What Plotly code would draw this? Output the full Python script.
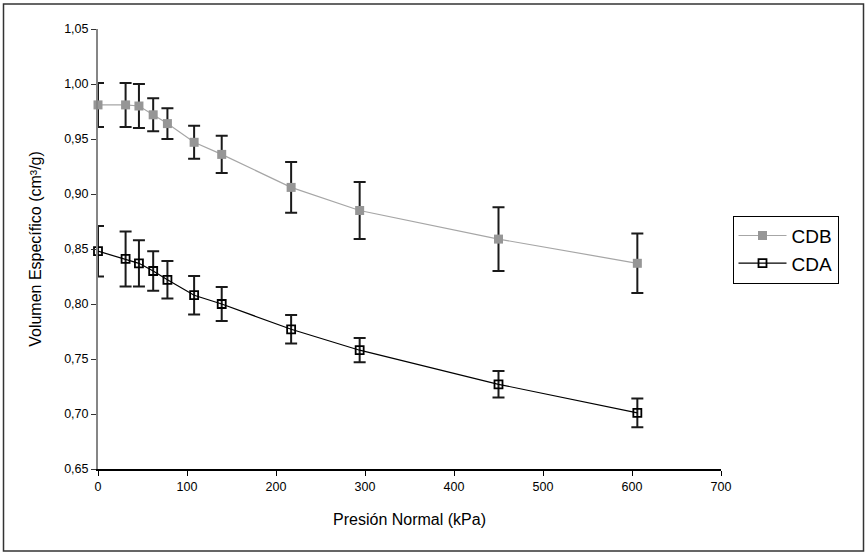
import plotly.graph_objects as go

# Data
presion = [0, 31, 46, 62, 78, 108, 139, 217, 294, 450, 606]
cdb = [0.981, 0.981, 0.980, 0.972, 0.964, 0.947, 0.936, 0.906, 0.885, 0.859, 0.837]
cdb_err = [0.020, 0.020, 0.020, 0.015, 0.014, 0.015, 0.017, 0.023, 0.026, 0.029, 0.027]
cda = [0.848, 0.841, 0.837, 0.830, 0.822, 0.808, 0.800, 0.777, 0.758, 0.727, 0.701]
cda_err = [0.023, 0.025, 0.021, 0.018, 0.017, 0.0175, 0.0155, 0.013, 0.011, 0.012, 0.013]

x_ticks = [0, 100, 200, 300, 400, 500, 600, 700]
y_ticks = [0.65, 0.70, 0.75, 0.80, 0.85, 0.90, 0.95, 1.00, 1.05]

FONT = "Liberation Sans, Arial, sans-serif"

fig = go.Figure()
fig.add_trace(go.Scatter(
    x=presion, y=cdb, name="CDB", mode="lines+markers",
    line=dict(color="#a6a6a6", width=1.2),
    marker=dict(symbol="square", size=9, color="#969696"),
    error_y=dict(type="data", array=cdb_err, visible=True,
                 color="#1a1a1a", thickness=2, width=6),
    cliponaxis=False,
))
fig.add_trace(go.Scatter(
    x=presion, y=cda, name="CDA", mode="lines+markers",
    line=dict(color="#000000", width=1.2),
    marker=dict(symbol="square-open", size=8, color="#000000",
                line=dict(width=1.8, color="#000000")),
    error_y=dict(type="data", array=cda_err, visible=True,
                 color="#1a1a1a", thickness=2, width=6),
    cliponaxis=False,
))

L, R, T, B = 98, 145, 28.5, 84.7
W, H = 866, 554
pw = W - L - R
ph = H - T - B

def px2paper_x(px):
    return (px - L) / pw

def py2paper_y(py):
    return (H - B - py) / ph

fig.add_shape(type="rect", xref="paper", yref="paper",
              x0=px2paper_x(3.5), x1=px2paper_x(863.5),
              y0=py2paper_y(551.5), y1=py2paper_y(3.5),
              line=dict(color="#333333", width=1.5), fillcolor="rgba(0,0,0,0)",
              layer="below")

fig.update_layout(
    width=W, height=H,
    margin=dict(l=L, r=R, t=T, b=B, autoexpand=False),
    paper_bgcolor="white", plot_bgcolor="white",
    separators=",.",
    font=dict(family=FONT, color="#000000"),
    showlegend=True,
    legend=dict(
        x=px2paper_x(732.5), y=py2paper_y(215.5), xanchor="left", yanchor="top",
        bgcolor="white", bordercolor="#000000", borderwidth=1,
        font=dict(size=19, family=FONT),
        itemwidth=48, tracegroupgap=0,
    ),
    xaxis=dict(
        range=[0, 700], tickvals=x_ticks, tickformat="d",
        showgrid=False, zeroline=False,
        showline=True, linecolor="#000000", linewidth=1.5,
        ticks="outside", ticklen=5, tickcolor="#000000", tickwidth=1,
        tickfont=dict(size=12.5, family=FONT),
        title=dict(text="Presión Normal (kPa)", font=dict(size=16, family=FONT), standoff=21),
    ),
    yaxis=dict(
        range=[0.65, 1.05], tickvals=y_ticks, tickformat=".2f",
        showgrid=False, zeroline=False,
        showline=True, linecolor="#868686", linewidth=2,
        ticks="outside", ticklen=5, tickcolor="#333333", tickwidth=1,
        tickfont=dict(size=12.5, family=FONT),
        title=dict(text="Volumen Específico (cm³/g)", font=dict(size=16, family=FONT), standoff=19),
    ),
)

fig.write_html("out.html")
